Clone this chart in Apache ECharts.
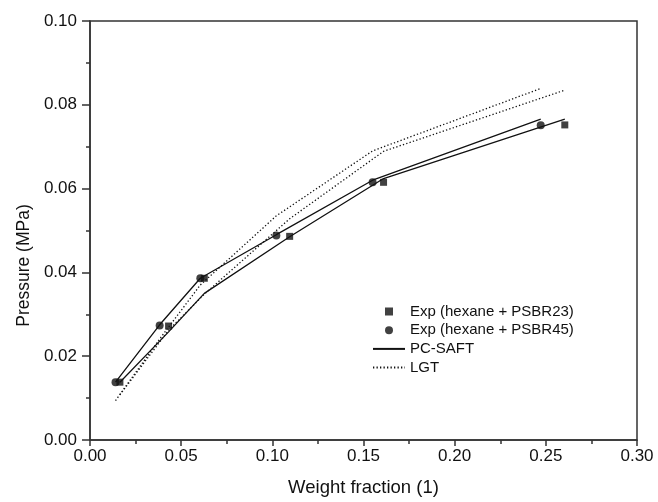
<!DOCTYPE html>
<html>
<head>
<meta charset="utf-8">
<title>Pressure vs weight fraction</title>
<script src="https://cdn.jsdelivr.net/npm/echarts@6/dist/echarts.min.js"></script>
<style>
  html, body { margin: 0; padding: 0; background: #fff; }
  #chart { width: 658px; height: 502px; }
</style>
</head>
<body>
<div id="chart"></div>
<script>
// experimental points (weight fraction, pressure MPa)
const expPSBR23X = [0.0164, 0.0431, 0.0627, 0.1095, 0.161, 0.2604]
const expPSBR23Y = [0.0138, 0.0272, 0.0386, 0.0486, 0.0615, 0.0752]
const expPSBR45X = [0.014, 0.0382, 0.0605, 0.1022, 0.155, 0.2472]
const expPSBR45Y = [0.0138, 0.0273, 0.0386, 0.0488, 0.0615, 0.0751]

// model curves
const saft45X = [0.014, 0.0382, 0.0605, 0.1022, 0.155, 0.2472]
const saft45Y = [0.0138, 0.0275, 0.0386, 0.049, 0.062, 0.0766]
const saft23X = [0.0164, 0.0431, 0.0627, 0.1095, 0.161, 0.2604]
const saft23Y = [0.0138, 0.0258, 0.035, 0.0485, 0.0624, 0.0766]
const lgt45X = [0.014, 0.0382, 0.0605, 0.1022, 0.155, 0.2472]
const lgt45Y = [0.0094, 0.0241, 0.037, 0.0535, 0.069, 0.0839]
const lgt23X = [0.0164, 0.0431, 0.0627, 0.1095, 0.161, 0.2604]
const lgt23Y = [0.0108, 0.0262, 0.0348, 0.0528, 0.0689, 0.0835]

const legendNames = ['Exp (hexane + PSBR23)', 'Exp (hexane + PSBR45)', 'PC-SAFT', 'LGT']

const pairs = (xs, ys) => xs.map((x, i) => [x, ys[i]])

const ink = '#111'
const frame = '#333'
const font = 'Arial, "Liberation Sans", sans-serif'
const dots = [1.3, 2.2]

const chart = echarts.init(document.getElementById('chart'))

chart.setOption({
  animation: false,
  backgroundColor: '#fff',
  grid: {
    left: 90,
    right: 21,
    top: 21,
    bottom: 62,
    show: true,
    borderColor: frame,
    borderWidth: 1.5,
    containLabel: false,
    outerBoundsMode: 'none',
  },
  legend: {
    orient: 'vertical',
    left: 367,
    top: 299,
    itemWidth: 32,
    itemHeight: 8,
    itemGap: 3.7,
    textStyle: { fontFamily: font, fontSize: 15, color: ink },
    data: [
      // square marker, kept square by a path icon
      { name: legendNames[0], icon: 'path://M0,0H10V10H0Z' },
      { name: legendNames[1], icon: 'circle' },
      // line entries: hide the symbol the legend puts on line icons
      { name: legendNames[2], itemStyle: { color: 'rgba(0,0,0,0)', borderWidth: 0 } },
      { name: legendNames[3], itemStyle: { color: 'rgba(0,0,0,0)', borderWidth: 0 } },
    ],
  },
  xAxis: {
    type: 'value',
    min: 0,
    max: 0.3,
    interval: 0.05,
    name: 'Weight fraction (1)',
    nameLocation: 'middle',
    nameGap: 38,
    nameTextStyle: { fontFamily: font, fontSize: 18.5, color: ink },
    axisLine: { lineStyle: { color: frame, width: 1.5 } },
    axisTick: { inside: false, length: 6, lineStyle: { color: frame, width: 1.5 } },
    minorTick: { show: true, splitNumber: 2, length: 4, lineStyle: { color: frame, width: 1.5 } },
    axisLabel: {
      margin: 8,
      fontFamily: font,
      fontSize: 17,
      color: ink,
      formatter: (v) => v.toFixed(2),
    },
    splitLine: { show: false },
  },
  yAxis: {
    type: 'value',
    min: 0,
    max: 0.1,
    interval: 0.02,
    name: 'Pressure (MPa)',
    nameLocation: 'middle',
    nameGap: 53,
    nameTextStyle: {
      fontFamily: font,
      fontSize: 17.5,
      color: ink,
      // title sits a bit below the middle of the axis
      padding: [0, 70, 0, 0],
    },
    axisLine: { lineStyle: { color: frame, width: 1.5 } },
    axisTick: { inside: false, length: 8, lineStyle: { color: frame, width: 1.5 } },
    minorTick: { show: true, splitNumber: 2, length: 4, lineStyle: { color: frame, width: 1.5 } },
    axisLabel: {
      margin: 13,
      fontFamily: font,
      fontSize: 17,
      color: ink,
      formatter: (v) => v.toFixed(2),
    },
    splitLine: { show: false },
  },
  series: [
    {
      name: legendNames[0],
      type: 'scatter',
      symbol: 'rect',
      symbolSize: 7,
      itemStyle: { color: ink },
      data: pairs(expPSBR23X, expPSBR23Y),
      z: 5,
    },
    {
      name: legendNames[1],
      type: 'scatter',
      symbol: 'circle',
      symbolSize: 8,
      itemStyle: { color: ink },
      data: pairs(expPSBR45X, expPSBR45Y),
      z: 5,
    },
    {
      name: legendNames[2],
      type: 'line',
      symbol: 'none',
      lineStyle: { color: ink, width: 1.3 },
      itemStyle: { color: ink },
      data: pairs(saft45X, saft45Y),
    },
    {
      name: legendNames[2],
      type: 'line',
      symbol: 'none',
      lineStyle: { color: ink, width: 1.3 },
      itemStyle: { color: ink },
      data: pairs(saft23X, saft23Y),
    },
    {
      name: legendNames[3],
      type: 'line',
      symbol: 'none',
      lineStyle: { color: ink, width: 1.3, type: dots },
      itemStyle: { color: ink },
      data: pairs(lgt45X, lgt45Y),
    },
    {
      name: legendNames[3],
      type: 'line',
      symbol: 'none',
      lineStyle: { color: ink, width: 1.3, type: dots },
      itemStyle: { color: ink },
      data: pairs(lgt23X, lgt23Y),
    },
  ],
})
</script>
</body>
</html>
